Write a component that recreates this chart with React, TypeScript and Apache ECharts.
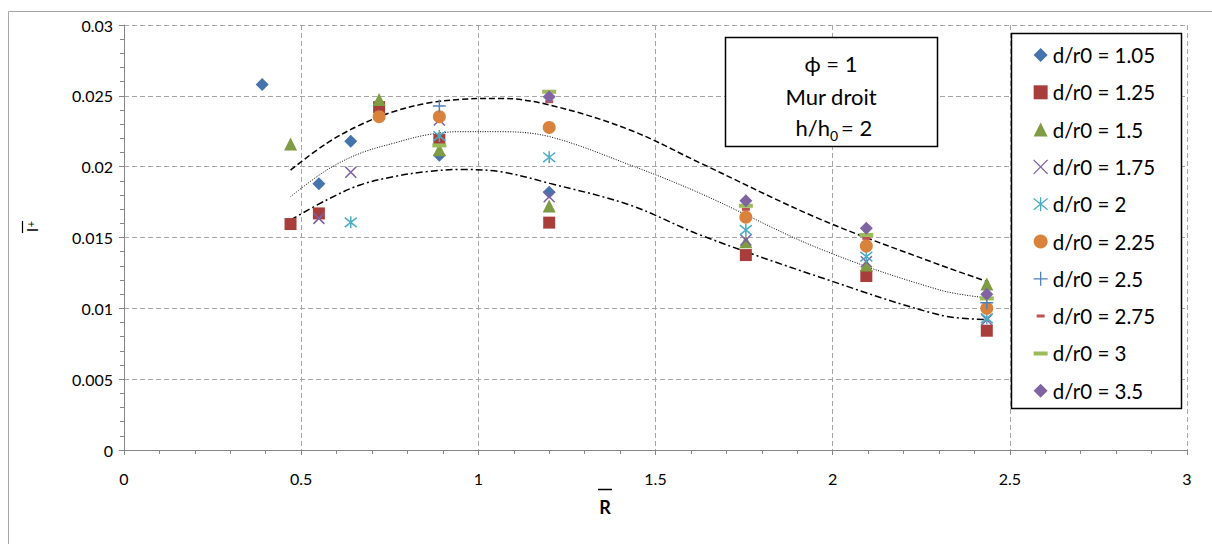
import React, { useEffect, useRef } from "react";
import * as echarts from "echarts";

// Shared R values (x positions of the measurement columns)
const R = [0.39, 0.47, 0.55, 0.64, 0.72, 0.89, 1.2, 1.755, 2.095, 2.435];

// I+ values per d/r0 (null = no point)
const y105 = [0.0258, null, 0.0188, 0.0218, null, 0.0208, 0.0182, null, null, null];
const y125 = [null, 0.01595, 0.0167, null, 0.0242, 0.0219, 0.01605, 0.01376, 0.01228, 0.00842];
const y150 = [null, 0.0216, null, null, 0.02475, 0.0212, 0.01722, 0.0147, 0.01306, 0.01172];
const y175 = [null, null, 0.01635, 0.0196, null, 0.0233, 0.01788, 0.01482, 0.01329, 0.0092];
const y200 = [null, null, null, 0.01607, null, 0.02216, 0.02066, 0.01553, 0.01365, 0.0093];
const y225 = [null, null, null, null, 0.02353, 0.02353, 0.02277, 0.01643, 0.0144, 0.01];
const y250 = [null, null, null, null, null, 0.02428, null, null, null, 0.0104];
const y275 = [null, null, null, null, null, null, 0.02459, 0.01699, 0.01494, 0.0108];
const y300 = [null, null, null, null, null, 0.0215, 0.02529, 0.01724, 0.01518, 0.0107];
const y350 = [null, null, null, null, null, null, 0.02494, 0.0176, 0.01565, 0.01099];

const seriesNames = [
  "d/r0 = 1.05",
  "d/r0 = 1.25",
  "d/r0 = 1.5",
  "d/r0 = 1.75",
  "d/r0 = 2",
  "d/r0 = 2.25",
  "d/r0 = 2.5",
  "d/r0 = 2.75",
  "d/r0 = 3",
  "d/r0 = 3.5",
];
const seriesValues = [y105, y125, y150, y175, y200, y225, y250, y275, y300, y350];

// Trend curves: [R, I+]
const trendUpper = [
  [0.47, 0.01976], [0.572, 0.02165], [0.666, 0.02294], [0.76, 0.02388], [0.854, 0.02447],
  [0.948, 0.02475], [1.061, 0.02482], [1.202, 0.02435], [1.428, 0.02259], [1.626, 0.02026],
  [1.964, 0.0163], [2.303, 0.01306], [2.44, 0.01186],
];
const trendMiddle = [
  [0.47, 0.01788], [0.572, 0.01976], [0.666, 0.02094], [0.76, 0.02165], [0.854, 0.02224],
  [0.948, 0.02247], [1.061, 0.02247], [1.202, 0.02211], [1.428, 0.02012], [1.626, 0.01812],
  [1.964, 0.0142], [2.303, 0.01129], [2.44, 0.01073],
];
const trendLower = [
  [0.47, 0.01624], [0.572, 0.01765], [0.666, 0.01871], [0.76, 0.01929], [0.854, 0.01965],
  [0.948, 0.0198], [1.061, 0.01965], [1.202, 0.01882], [1.428, 0.01729], [1.626, 0.01518],
  [1.964, 0.0122], [2.303, 0.00953], [2.44, 0.0092],
];

const FONT = "Lato, 'Open Sans', sans-serif";

const X_PATH = "path://M0,0L10,10M10,0L0,10";
const AST_PATH = "path://M0,1L10,9M10,1L0,9M5,0L5,10";
const PLUS_PATH = "path://M5,0L5,10M0,5L10,5";
const DASH_PATH = "path://M0,0L8,0L8,3L0,3Z";
const BAR_PATH = "path://M0,0L14,0L14,4L0,4Z";

type Style = {
  color: string;
  symbol: string;
  size: number | number[];
  stroke?: boolean;
  legendIcon?: string;
};

const styles: Style[] = [
  { color: "#4573AB", symbol: "diamond", size: 13 },
  { color: "#A83E3B", symbol: "rect", size: 12 },
  { color: "#7F9C44", symbol: "triangle", size: 13 },
  { color: "#7E5FA0", symbol: X_PATH, size: 11, stroke: true },
  { color: "#4AACC5", symbol: AST_PATH, size: 12, stroke: true },
  { color: "#D9823B", symbol: "circle", size: 13 },
  { color: "#4F81BD", symbol: PLUS_PATH, size: 13, stroke: true },
  { color: "#C0504D", symbol: DASH_PATH, size: [8, 3], legendIcon: "path://M0,0L14,14M3,5.5L11,5.5L11,8.5L3,8.5Z" },
  { color: "#9BBB59", symbol: BAR_PATH, size: [14, 4], legendIcon: "path://M0,0L14,14M0,5L14,5L14,9L0,9Z" },
  { color: "#8064A2", symbol: "diamond", size: 13 },
];

export default function App() {
  const ref = useRef<HTMLDivElement>(null);

  useEffect(() => {
    if (!ref.current) return;
    const chart = echarts.init(ref.current, null, { renderer: "svg" });

    const scatterSeries = seriesNames.map((name, i) => {
      const st = styles[i];
      const data = R.map((x, j) => (seriesValues[i][j] == null ? null : [x, seriesValues[i][j]])).filter(
        (d) => d !== null
      );
      return {
        name,
        type: "scatter",
        data,
        symbol: st.symbol,
        symbolSize: st.size,
        z: 3 + i * 0.01,
        itemStyle: st.stroke
          ? { color: st.color, borderColor: st.color, borderWidth: 1.5, opacity: 1 }
          : { color: st.color, borderWidth: 0, opacity: 1 },
      };
    });

    const trendLine = (data: number[][], type: any, width: number) => ({
      type: "line",
      data,
      smooth: 0.35,
      showSymbol: false,
      symbol: "none",
      silent: true,
      z: 2,
      lineStyle: { color: "#000", width, type },
    });

    const legendData = seriesNames.map((name, i) => {
      const st = styles[i];
      return {
        name,
        icon: st.legendIcon || st.symbol,
        itemStyle: st.stroke
          ? { color: st.color, borderColor: st.color, borderWidth: 1.3 }
          : { color: st.color, borderWidth: 0 },
      };
    });

    chart.setOption({
      animation: false,
      backgroundColor: "#fff",
      grid: { left: 124, right: 25, top: 25, bottom: 94, containLabel: false },
      xAxis: {
        type: "value",
        min: 0,
        max: 3,
        interval: 0.5,
        axisLine: { show: true, onZero: false, lineStyle: { color: "#868686", width: 1 } },
        axisTick: { show: true, length: 5, lineStyle: { color: "#868686" } },
        minorTick: { show: true, splitNumber: 5, length: 4, lineStyle: { color: "#868686" } },
        splitLine: { show: true, lineStyle: { color: "#a6a6a6", width: 1, type: [5, 3] } },
        axisLabel: { color: "#000", fontSize: 16, fontFamily: FONT, margin: 20 },
      },
      yAxis: {
        type: "value",
        min: 0,
        max: 0.03,
        interval: 0.005,
        axisLine: { show: true, onZero: false, lineStyle: { color: "#868686", width: 1 } },
        axisTick: { show: true, length: 5, lineStyle: { color: "#868686" } },
        minorTick: { show: true, splitNumber: 5, length: 4, lineStyle: { color: "#868686" } },
        splitLine: { show: true, lineStyle: { color: "#a6a6a6", width: 1, type: [5, 3] } },
        axisLabel: { color: "#000", fontSize: 16, fontFamily: FONT, margin: 11 },
      },
      legend: {
        show: true,
        orient: "vertical",
        left: 1033,
        top: 44,
        itemWidth: 14,
        itemHeight: 14,
        itemGap: 15.3,
        padding: 0,
        z: 6,
        selectedMode: false,
        textStyle: { color: "#000", fontSize: 20.5, fontFamily: FONT, lineHeight: 22 },
        data: legendData,
      },
      graphic: [
        {
          type: "rect",
          silent: true,
          z: -10,
          shape: { x: 8.5, y: 11.5, width: 1300, height: 700 },
          style: { fill: "none", stroke: "#a6a6a6", lineWidth: 1 },
        },
        {
          type: "rect",
          silent: true,
          z: 5,
          shape: { x: 1011.5, y: 33.5, width: 170, height: 375 },
          style: { fill: "#fff", stroke: "#000", lineWidth: 1.5 },
        },
        {
          type: "rect",
          silent: true,
          z: 5,
          shape: { x: 725.5, y: 37.5, width: 212, height: 109 },
          style: { fill: "#fff", stroke: "#000", lineWidth: 1.5 },
        },
        {
          type: "text",
          silent: true,
          z: 6,
          x: 831,
          y: 63,
          style: { text: "ϕ = 1", fontSize: 22, fontFamily: FONT, fill: "#000", align: "center", verticalAlign: "middle" },
        },
        {
          type: "text",
          silent: true,
          z: 6,
          x: 831,
          y: 96,
          style: { text: "Mur droit", fontSize: 22, fontFamily: FONT, fill: "#000", align: "center", verticalAlign: "middle" },
        },
        {
          type: "text",
          silent: true,
          z: 6,
          x: 830,
          y: 127,
          style: { text: "h/h", fontSize: 22, fontFamily: FONT, fill: "#000", align: "right", verticalAlign: "middle" },
        },
        {
          type: "text",
          silent: true,
          z: 6,
          x: 830,
          y: 135,
          style: { text: "0", fontSize: 14, fontFamily: FONT, fill: "#000", align: "left", verticalAlign: "middle" },
        },
        {
          type: "text",
          silent: true,
          z: 6,
          x: 841,
          y: 127,
          style: { text: "= 2", fontSize: 22, fontFamily: FONT, fill: "#000", align: "left", verticalAlign: "middle" },
        },
        // x axis title: R with overbar
        {
          type: "text",
          silent: true,
          z: 6,
          x: 605,
          y: 507,
          style: { text: "R", fontSize: 18, fontWeight: "bold", fontFamily: FONT, fill: "#000", align: "center", verticalAlign: "middle" },
        },
        {
          type: "line",
          silent: true,
          z: 6,
          shape: { x1: 598, y1: 489.5, x2: 612, y2: 489.5 },
          style: { stroke: "#000", lineWidth: 1.5 },
        },
        // y axis title: I+ with overbar (rotated)
        {
          type: "line",
          silent: true,
          z: 6,
          shape: { x1: 22.5, y1: 221, x2: 22.5, y2: 233 },
          style: { stroke: "#000", lineWidth: 1.2 },
        },
        {
          type: "text",
          silent: true,
          z: 6,
          x: 31,
          y: 230,
          rotation: Math.PI / 2,
          style: { text: "I", fontSize: 16, fontFamily: FONT, fill: "#000", align: "center", verticalAlign: "middle" },
        },
        {
          type: "text",
          silent: true,
          z: 6,
          x: 30,
          y: 224,
          rotation: Math.PI / 2,
          style: { text: "+", fontSize: 11, fontFamily: FONT, fill: "#000", align: "center", verticalAlign: "middle" },
        },
      ],
      series: [
        trendLine(trendUpper, [6, 3], 1.5),
        trendLine(trendMiddle, [1, 1.5], 1),
        trendLine(trendLower, [7, 3, 2, 3], 1.5),
        ...scatterSeries,
      ],
    });

    return () => chart.dispose();
  }, []);

  return (
    <div
      ref={ref}
      style={{ position: "absolute", left: 0, top: 0, width: 1212, height: 544, background: "#fff" }}
    />
  );
}
